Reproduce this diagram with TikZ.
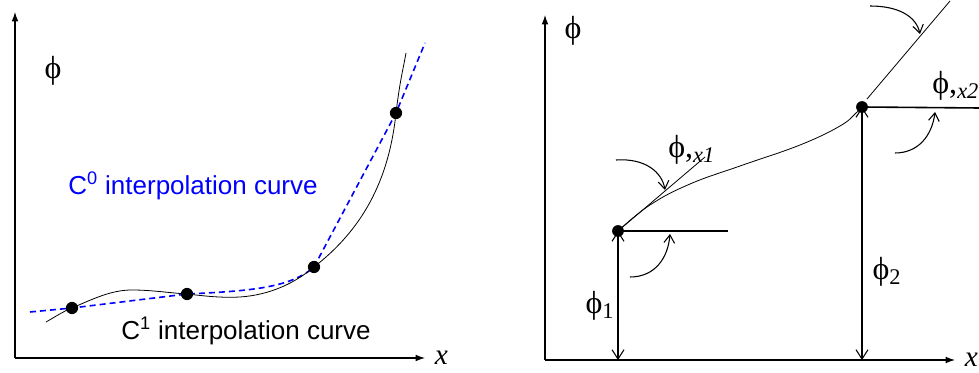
\documentclass[tikz,border=0pt]{standalone}
\usepackage{fontspec}
\setmainfont{Liberation Serif}
\newfontfamily\arialfont{Liberation Sans}
\usetikzlibrary{arrows.meta}
\begin{document}
\begin{tikzpicture}[x=0.75pt, y=-0.75pt, line width=0.6pt,
  axis/.style={-{Latex[length=7pt,width=5pt]}, line width=0.8pt},
  turn/.style={-{Straight Barb[length=6pt,width=8pt]}, line width=0.8pt},
  dim/.style={{Straight Barb[length=7pt,width=9pt]}-{Straight Barb[length=7pt,width=9pt]}, line width=0.8pt},
  lbl/.style={font=\fontsize{24}{26}\selectfont, inner sep=0pt},
  xlbl/.style={font=\fontsize{22}{24}\selectfont\itshape, inner sep=0pt},
  curvetext/.style={font=\arialfont\fontsize{19.5}{22}\selectfont, inner sep=0pt}]
  \useasboundingbox (0,0) rectangle (979,373);
  % left: C0 and C1 interpolation through four points
  \coordinate (o1) at (15,358);
  \coordinate (a1) at (72,308); \coordinate (a2) at (187,294);
  \coordinate (a3) at (314,267); \coordinate (a4) at (396,113);
  \draw[axis] (o1) -- (15,12);
  \draw[axis] (o1) -- (425,358) node[xlbl, right=7pt] (xl) {x};
  \node[lbl] (phl) at (53,71) {ϕ};
  \draw[blue, line width=1.2pt, dash pattern=on 4.5pt off 3pt] (30,312) -- (a1) -- (a2)
    .. controls (250,291) and (290,288) .. (a3) -- (a4) -- (425,43);
  \draw (46,322) .. controls (55,317) and (62,312) .. (a1)
    .. controls (95,298) and (112,290) .. (132,290) .. controls (152,290) and (170,293) .. (a2)
    .. controls (205,296) and (220,298) .. (240,297) .. controls (270,295) and (295,283) .. (a3)
    .. controls (355,235) and (388,190) .. (a4) .. controls (400,80) and (403,70) .. (406,53);
  \foreach \p in {a1,a2,a3,a4} \fill (\p) circle (4.6pt);
  \node[curvetext, text=blue, anchor=west] (c0) at (68,186) {C\textsuperscript{0} interpolation curve};
  \node[curvetext, anchor=west] (c1) at (121,331) {C\textsuperscript{1} interpolation curve};
  % right: end values and slopes
  \coordinate (o2) at (545,360);
  \coordinate (b1) at (618,231); \coordinate (b2) at (862,107);
  \coordinate (f1) at (618,360); \coordinate (f2) at (862,360);
  \draw[axis] (o2) -- (545,15);
  \draw[axis] (o2) -- (955,360) node[xlbl, right=7pt] (xr) {x};
  \node[lbl] (phr) at (573,31) {ϕ};
  \draw[line width=1.2pt] (b1) -- (728,231);
  \draw[line width=1.2pt] (b2) -- (979,108);
  \draw (b1) -- (705,157);
  \draw (867,99) -- (950,1);
  \draw plot[smooth, tension=0.7] coordinates {(b1) (650,205) (690,184) (740,166) (800,145)
    (840,126) (856,113) (b2)};
  \draw[dim] (f1) -- (b1);
  \draw[dim] (f2) -- (b2);
  \draw[turn] (630,277) .. controls (655,277) and (668,258) .. (670,234);
  \draw[turn] (616,160) .. controls (645,158) and (662,172) .. (665,190);
  \draw[turn] (895,153) .. controls (918,153) and (932,136) .. (935,112);
  \draw[turn] (870,6) .. controls (898,6) and (916,16) .. (920,34);
  \foreach \p in {b1,b2} \fill (\p) circle (4.4pt);
  \node[lbl] (p1) at (600,306) {ϕ\textsubscript{1}};
  \node[lbl] (p2) at (887,272) {ϕ\textsubscript{2}};
  \node[lbl, anchor=west] (s1) at (668,150) {ϕ,\textsubscript{\itshape x1}};
  \node[lbl, anchor=west] (s2) at (932,86) {ϕ,\textsubscript{\itshape x2}};
\end{tikzpicture}
\end{document}
